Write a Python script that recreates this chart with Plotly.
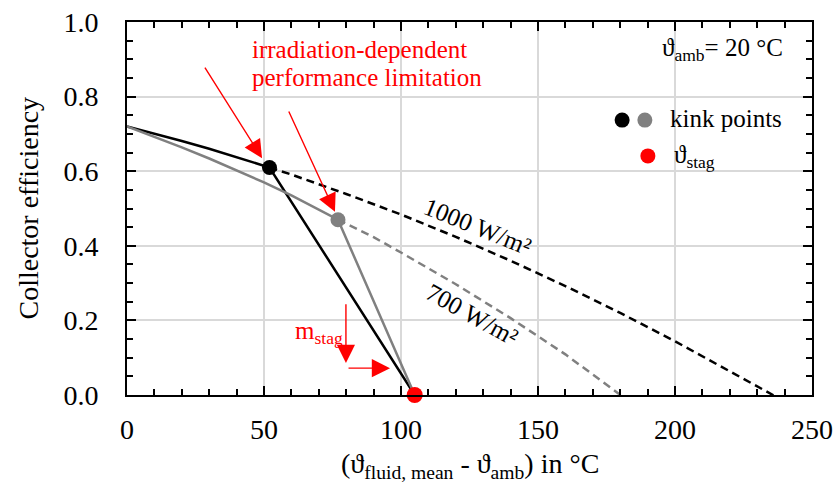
import plotly.graph_objects as go

# ---- data ----
x_1000_solid = [0, 10, 20, 30, 40, 52, 105]
y_1000_solid = [0.72, 0.701, 0.681, 0.660, 0.638, 0.610, 0.0]
x_1000_dash = [52, 60, 80, 100, 120, 140, 160, 180, 200, 220, 237]
y_1000_dash = [0.610, 0.591, 0.539, 0.484, 0.424, 0.360, 0.292, 0.220, 0.144, 0.063, -0.005]

x_700_solid = [0, 10, 20, 30, 40, 50, 60, 77, 105]
y_700_solid = [0.72, 0.693, 0.664, 0.634, 0.603, 0.570, 0.535, 0.470, 0.0]
x_700_dash = [77, 90, 100, 120, 140, 160, 181]
y_700_dash = [0.470, 0.423, 0.382, 0.297, 0.206, 0.109, -0.005]

kink_x = [52, 77]
kink_y = [0.610, 0.470]
kink_colors = ["black", "#808080"]
stag_x = [105]
stag_y = [0.0]

legend_kink_x = [180.7, 189.0]
legend_kink_y = [0.737, 0.737]
legend_stag_x = [190.1]
legend_stag_y = [0.641]

x_ticks = [0, 50, 100, 150, 200, 250]
y_ticks = [0.0, 0.2, 0.4, 0.6, 0.8, 1.0]

FONT = "Liberation Serif, Times New Roman, serif"
RED = "#ff0000"
GRAY = "#808080"

fig = go.Figure()
fig.add_trace(go.Scatter(x=x_1000_solid, y=y_1000_solid, mode="lines",
                         line=dict(color="black", width=2.5), cliponaxis=False))
fig.add_trace(go.Scatter(x=x_700_solid, y=y_700_solid, mode="lines",
                         line=dict(color=GRAY, width=2.5), cliponaxis=False))
fig.add_trace(go.Scatter(x=x_1000_dash, y=y_1000_dash, mode="lines",
                         line=dict(color="black", width=2.5, dash="8px,5px"), cliponaxis=False))
fig.add_trace(go.Scatter(x=x_700_dash, y=y_700_dash, mode="lines",
                         line=dict(color=GRAY, width=2.5, dash="8px,5px"), cliponaxis=False))
fig.add_trace(go.Scatter(x=kink_x, y=kink_y, mode="markers",
                         marker=dict(color=kink_colors, size=15), cliponaxis=False))
fig.add_trace(go.Scatter(x=stag_x, y=stag_y, mode="markers",
                         marker=dict(color=RED, size=16), cliponaxis=False))
fig.add_trace(go.Scatter(x=legend_kink_x, y=legend_kink_y, mode="markers",
                         marker=dict(color=kink_colors, size=15)))
fig.add_trace(go.Scatter(x=legend_stag_x, y=legend_stag_y, mode="markers",
                         marker=dict(color=RED, size=15)))

ann = []
def txt(x, y, s, size=25, color="black", xanchor="left", angle=0, yanchor="middle"):
    ann.append(dict(x=x, y=y, xref="x", yref="y", text=s, showarrow=False,
                    font=dict(family=FONT, size=size, color=color),
                    xanchor=xanchor, yanchor=yanchor, textangle=angle))

def arrow(x0, y0, x1, y1):
    ann.append(dict(x=x1, y=y1, ax=x0, ay=y0, xref="x", yref="y", axref="x", ayref="y",
                    text="", showarrow=True, arrowhead=2, arrowsize=2.6, arrowwidth=1.4,
                    arrowcolor=RED))

txt(44.9, 0.925, "irradiation-dependent", color=RED)
txt(44.9, 0.850, "performance limitation", color=RED)
txt(240, 0.925, "ϑ<sub>amb</sub>= 20 °C", xanchor="right")
txt(197.4, 0.740, "kink points")
txt(199.0, 0.640, "ϑ<sub>stag</sub>")
txt(128, 0.452, "1000 W/m²", angle=22, xanchor="center")
txt(126, 0.217, "700 W/m²", angle=29, xanchor="center")
txt(60.5, 0.168, "m<sub>stag</sub>", color=RED)

arrow(28.1, 0.882, 49.3, 0.635)
arrow(58.8, 0.764, 75.9, 0.491)
arrow(79.9, 0.247, 79.9, 0.086)
arrow(80.3, 0.072, 96.0, 0.072)

ann.append(dict(x=0.5, y=-0.19, xref="paper", yref="paper", showarrow=False,
                text="(ϑ<sub>fluid, mean</sub> - ϑ<sub>amb</sub>) in °C",
                font=dict(family=FONT, size=28, color="black"),
                xanchor="center", yanchor="middle"))
ann.append(dict(x=-0.1445, y=0.5, xref="paper", yref="paper", showarrow=False,
                text="Collector efficiency", textangle=-90,
                font=dict(family=FONT, size=28, color="black"),
                xanchor="center", yanchor="middle"))

axis_common = dict(showline=True, linecolor="black", linewidth=2, mirror="allticks",
                   ticks="inside", ticklen=9, tickwidth=1.5, tickcolor="black",
                   showgrid=True, gridcolor="#d9d9d9", gridwidth=2, zeroline=False,
                   automargin=False,
                   tickfont=dict(family=FONT, size=28, color="black"))

fig.update_layout(
    width=840, height=492,
    margin=dict(l=127, r=28, t=22, b=97),
    paper_bgcolor="white", plot_bgcolor="white",
    showlegend=False,
    annotations=ann,
    xaxis=dict(range=[0, 250], tickvals=x_ticks, ticktext=[str(v) for v in x_ticks],
               ticklabelstandoff=8,
               minor=dict(dtick=10, ticks="inside", ticklen=6, tickcolor="black", showgrid=False),
               **axis_common),
    yaxis=dict(range=[0, 1], tickvals=y_ticks, ticktext=[f"{v:.1f}" for v in y_ticks],
               ticklabelstandoff=21,
               minor=dict(dtick=0.05, ticks="inside", ticklen=6, tickcolor="black", showgrid=False),
               **axis_common),
)

fig.write_html("out.html")
